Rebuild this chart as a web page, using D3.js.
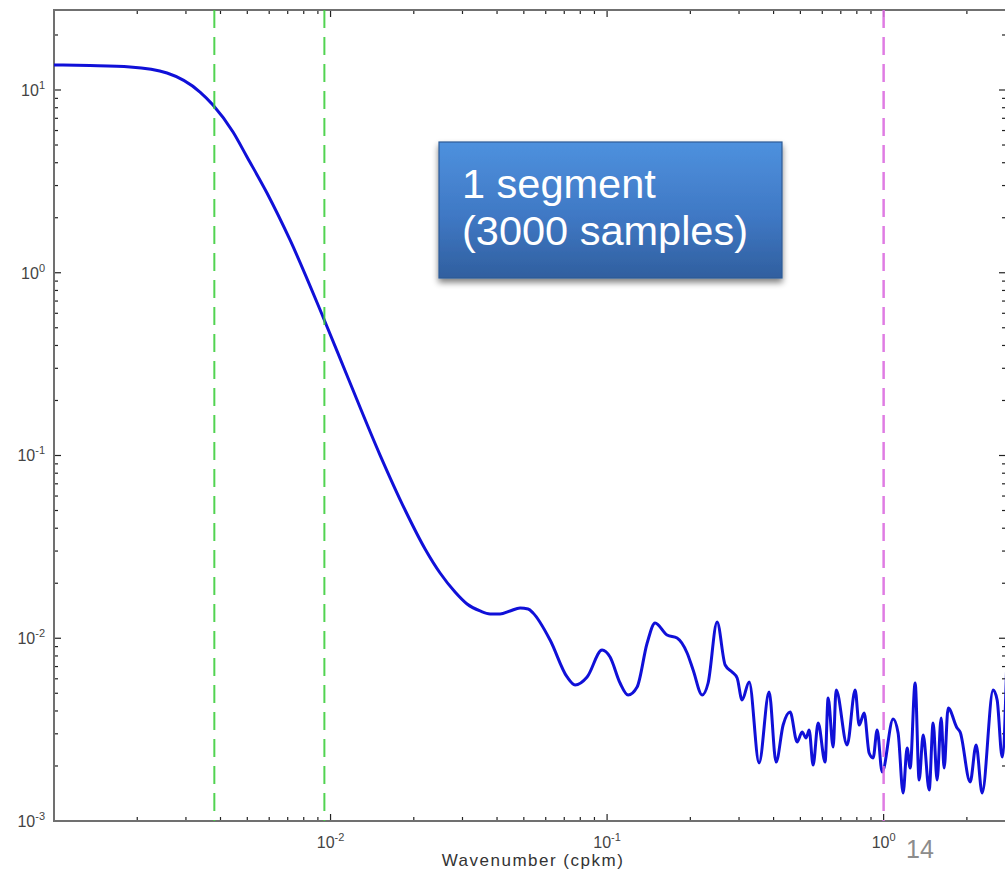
<!DOCTYPE html>
<html><head><meta charset="utf-8">
<script src="https://cdn.jsdelivr.net/npm/d3@7"></script>
<style>body{margin:0;background:#fff;} svg{display:block;}</style>
</head><body><svg id="c" width="1005" height="871"></svg>
<script>
// ---- data ----
const freq = [0.001000, 0.001349, 0.001884, 0.002563, 0.003373, 0.003758, 0.004440, 0.004989, 0.005891, 0.007137,
  0.009395, 0.01157, 0.01510, 0.01860, 0.02197, 0.02489, 0.02820, 0.03117, 0.03473, 0.03775, 0.04102,
  0.04459, 0.04846, 0.05180, 0.05400, 0.06221, 0.07166, 0.07660, 0.08468, 0.09592, 0.1025,
  0.1114, 0.1191, 0.1284, 0.1396, 0.1491, 0.1648, 0.1791, 0.1947, 0.2047, 0.2207,
  0.2319, 0.2499, 0.2673, 0.2832, 0.2953, 0.3077, 0.3264, 0.3545, 0.3853, 0.4084,
  0.4331, 0.4590, 0.4866, 0.5072, 0.5244, 0.5378, 0.5559, 0.5796, 0.6143, 0.6299,
  0.6568, 0.6733, 0.7379, 0.7889, 0.8157, 0.8503, 0.8862, 0.9162, 0.9473, 0.9876,
  1.0824, 1.128, 1.176, 1.216, 1.247, 1.300, 1.344, 1.390, 1.461, 1.510,
  1.561, 1.614, 1.655, 1.711, 1.844, 1.891, 2.055, 2.160, 2.271, 2.489,
  2.573, 2.683, 2.797];
const psd = [13.70, 13.6, 13.36, 12.39, 9.75, 8.28, 5.89, 4.30, 2.732, 1.511,
  0.5728, 0.2655, 0.1006, 0.05031, 0.03079, 0.02275, 0.01791, 0.01540, 0.01410, 0.01358, 0.01358,
  0.01410, 0.01464, 0.01446, 0.01375, 0.009781, 0.006138, 0.005550, 0.006138, 0.008624, 0.007896,
  0.005690, 0.004892, 0.005409, 0.009418, 0.01212, 0.01042, 0.01003, 0.008306, 0.006704, 0.004892,
  0.005690, 0.01227, 0.007139, 0.006536, 0.006059, 0.004594, 0.005763, 0.002077, 0.005080, 0.002103,
  0.003352, 0.003948, 0.002706, 0.003069, 0.002846, 0.003147, 0.002025, 0.003438, 0.002103, 0.004711,
  0.002541, 0.005210, 0.002605, 0.005210, 0.003352, 0.003899, 0.002356, 0.002212, 0.003147, 0.001854,
  0.003614, 0.003031, 0.001423, 0.002509, 0.001950, 0.005690, 0.001677, 0.002956, 0.001478, 0.003438,
  0.001677, 0.003661, 0.001950, 0.004152, 0.003228, 0.003069, 0.001635, 0.002605, 0.001423, 0.005210,
  0.004594, 0.002240, 0.008624];
const greenLines = [0.0038, 0.0095];
const magentaLines = [1.0];
const xDomain = [0.001, 2.77];
const yDomain = [0.001, 27.4];
const xTickExps = [-2, -1, 0];
const yTickExps = [-3, -2, -1, 0, 1];
const xLabel = "Wavenumber (cpkm)";
const boxLines = ["1 segment", "(3000 samples)"];
const pageNumber = "14";

// ---- drawing ----
const svg = d3.select("#c");
const L = 54, T = 10, R = 1006, B = 821;
const x = d3.scaleLog().domain(xDomain).range([L, R]);
const y = d3.scaleLog().domain(yDomain).range([B, T]);

const defs = svg.append("defs");
defs.append("clipPath").attr("id", "clip").append("rect")
  .attr("x", L).attr("y", T).attr("width", R - L).attr("height", B - T);
const grad = defs.append("linearGradient").attr("id", "boxg").attr("x1", 0).attr("y1", 0).attr("x2", 0).attr("y2", 1);
grad.append("stop").attr("offset", "0%").attr("stop-color", "#4e91de");
grad.append("stop").attr("offset", "55%").attr("stop-color", "#3f78c4");
grad.append("stop").attr("offset", "100%").attr("stop-color", "#305f9f");
const sh = defs.append("filter").attr("id", "shadow").attr("x", "-10%").attr("y", "-10%").attr("width", "120%").attr("height", "130%");
sh.append("feGaussianBlur").attr("in", "SourceAlpha").attr("stdDeviation", 3);
sh.append("feOffset").attr("dx", 0).attr("dy", 4).attr("result", "o");
sh.append("feComponentTransfer").append("feFuncA").attr("type", "linear").attr("slope", 0.5);
const fm = sh.append("feMerge");
fm.append("feMergeNode");
fm.append("feMergeNode").attr("in", "SourceGraphic");

const isMajor = v => Math.abs(Math.log10(v) - Math.round(Math.log10(v))) < 1e-6;

// ticks
const tg = svg.append("g").attr("stroke", "#222").attr("stroke-width", 1.2);
x.ticks().filter(v => v >= xDomain[0] && v <= xDomain[1]).forEach(v => {
  const len = isMajor(v) ? 7 : 4;
  const px = x(v);
  tg.append("line").attr("x1", px).attr("x2", px).attr("y1", B).attr("y2", B - len);
  tg.append("line").attr("x1", px).attr("x2", px).attr("y1", T).attr("y2", T + len);
});
y.ticks().filter(v => v >= yDomain[0] && v <= yDomain[1]).forEach(v => {
  const len = isMajor(v) ? 7 : 4;
  const py = y(v);
  tg.append("line").attr("x1", L).attr("x2", L + len).attr("y1", py).attr("y2", py);
  tg.append("line").attr("x1", R).attr("x2", R - len).attr("y1", py).attr("y2", py);
});

// frame
svg.append("rect").attr("x", L).attr("y", T).attr("width", R - L).attr("height", B - T)
  .attr("fill", "none").attr("stroke", "#707070").attr("stroke-width", 2);

// tick labels
const font = "'Liberation Sans', Arial, Helvetica, sans-serif";
xTickExps.forEach(e => {
  const t = svg.append("text").attr("x", x(Math.pow(10, e))).attr("y", 848)
    .attr("text-anchor", "middle").attr("font-family", font).attr("font-size", 16).attr("fill", "#444");
  t.append("tspan").text("10");
  t.append("tspan").attr("dy", -7).attr("font-size", 11).text(String(e));
});
yTickExps.forEach(e => {
  const t = svg.append("text").attr("x", 45).attr("y", y(Math.pow(10, e)) + 6)
    .attr("text-anchor", "end").attr("font-family", font).attr("font-size", 16).attr("fill", "#444");
  t.append("tspan").text("10");
  t.append("tspan").attr("dy", -7).attr("font-size", 11).text(String(e));
});

// axis label
svg.append("text").attr("x", 533).attr("y", 866).attr("text-anchor", "middle")
  .attr("font-family", font).attr("font-size", 17).attr("letter-spacing", 1.5)
  .attr("fill", "#333").text(xLabel);

// curve
const pts = freq.map((f, i) => [f, psd[i]]);
const line = d3.line().x(d => x(d[0])).y(d => y(d[1])).curve(d3.curveMonotoneX);
const plot = svg.append("g").attr("clip-path", "url(#clip)");
plot.append("path").attr("d", line(pts)).attr("fill", "none")
  .attr("stroke", "#1010d8").attr("stroke-width", 3).attr("stroke-linejoin", "round");

// dashed reference lines
greenLines.forEach(f => {
  plot.append("line").attr("x1", x(f)).attr("x2", x(f)).attr("y1", T).attr("y2", B)
    .attr("stroke", "#3fcf3f").attr("stroke-width", 2).attr("stroke-dasharray", "18,9").attr("opacity", 0.9);
});
magentaLines.forEach(f => {
  plot.append("line").attr("x1", x(f)).attr("x2", x(f)).attr("y1", T).attr("y2", B)
    .attr("stroke", "#dc6ee0").attr("stroke-width", 2.5).attr("stroke-dasharray", "18,9").attr("opacity", 0.9);
});

// annotation box
svg.append("rect").attr("x", 439).attr("y", 142).attr("width", 343).attr("height", 136)
  .attr("fill", "url(#boxg)").attr("stroke", "#2e5b96").attr("stroke-width", 1.2).attr("filter", "url(#shadow)");
boxLines.forEach((s, i) => {
  svg.append("text").attr("x", 462).attr("y", 198 + i * 47)
    .attr("font-family", font).attr("font-size", 41.5).attr("fill", "#fff").text(s);
});

// page number
svg.append("text").attr("x", 906).attr("y", 858).attr("font-family", font)
  .attr("font-size", 25).attr("fill", "#8c8c8c").text(pageNumber);
</script></body></html>
